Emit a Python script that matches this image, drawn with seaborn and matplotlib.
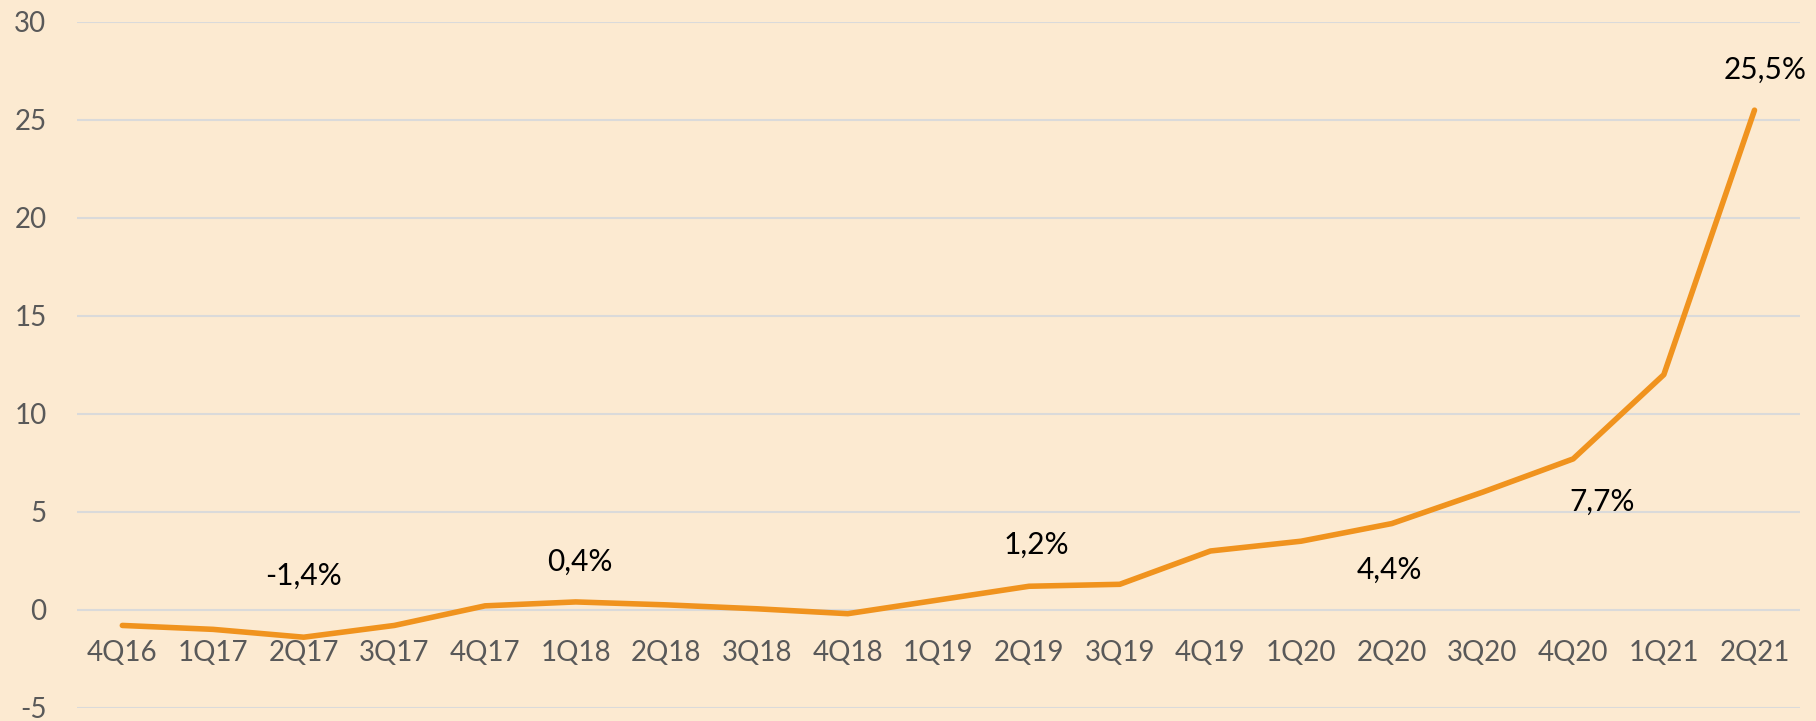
import matplotlib
matplotlib.use("Agg")
import matplotlib.pyplot as plt
import seaborn as sns
import pandas as pd

# квартальная динамика, %
quarters = ["4Q16", "1Q17", "2Q17", "3Q17", "4Q17", "1Q18", "2Q18", "3Q18", "4Q18", "1Q19",
            "2Q19", "3Q19", "4Q19", "1Q20", "2Q20", "3Q20", "4Q20", "1Q21", "2Q21"]
values = [-0.8, -1.0, -1.4, -0.8, 0.2, 0.4, 0.25, 0.05, -0.2, 0.5,
          1.2, 1.3, 3.0, 3.5, 4.4, 6.0, 7.7, 12.0, 25.5]

# подписи точек
label_quarters = ["2Q17", "1Q18", "2Q19", "2Q20", "4Q20", "2Q21"]
label_texts = ["-1,4%", "0,4%", "1,2%", "4,4%", "7,7%", "25,5%"]
label_offsets = [(0, 61), (4, 40), (7, 41), (-2, -46), (29, -43), (11, 40)]

bg = "#FCEAD1"
sns.set_theme(style="white")
plt.rcParams["font.family"] = ["Lato", "DejaVu Sans"]
plt.rcParams["axes.unicode_minus"] = False

df = pd.DataFrame({"q": quarters, "v": values})

fig = plt.figure(figsize=(18.16, 7.21), dpi=100, facecolor=bg)
ax = fig.add_axes([0.0424, 0.0184, 0.9487, 0.9511])
ax.set_facecolor(bg)

sns.lineplot(data=df, x="q", y="v", sort=False, color="#F0931E", linewidth=4,
             solid_capstyle="round", ax=ax)

for q, t, off in zip(label_quarters, label_texts, label_offsets):
    i = quarters.index(q)
    ax.annotate(t, (i, values[i]), xytext=off, textcoords="offset pixels",
                ha="center", va="center", fontsize=21.5, color="black")

ax.set_ylim(-5, 30)
ax.set_xlim(-0.5, 18.5)
ax.set_yticks(range(-5, 31, 5))
ax.yaxis.grid(True, color="#DADADA", linewidth=1.5)
ax.set_axisbelow(True)
for s in ax.spines.values():
    s.set_visible(False)
ax.spines["bottom"].set_position(("data", 0))
ax.tick_params(axis="y", length=0, pad=22, labelsize=20, labelcolor="#595959")
ax.tick_params(axis="x", length=0, pad=22, labelsize=20, labelcolor="#595959")
ax.set_xlabel("")
ax.set_ylabel("")

fig.savefig("out.png", dpi=100, facecolor=bg)
